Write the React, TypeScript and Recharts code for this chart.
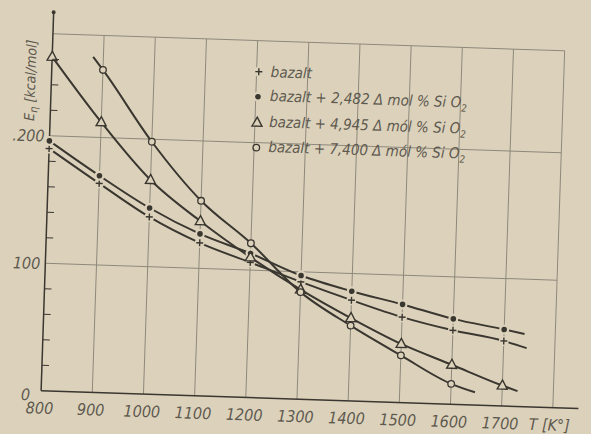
import React from 'react';
import { LineChart, Line, XAxis, YAxis, ReferenceLine, ReferenceDot, Legend } from 'recharts';

// temperatures [K] and activation energy E_eta [kcal/mol]
const bazaltT = [800, 900, 1000, 1100, 1200, 1300, 1400, 1500, 1600, 1700, 1745];
const bazaltE = [190, 164, 139, 120, 106, 92, 79, 67, 58, 51, 46];

const si2482T = [800, 900, 1000, 1100, 1200, 1300, 1400, 1500, 1600, 1700, 1740];
const si2482E = [196, 170, 146, 127, 113, 97, 86, 77, 67, 60, 57];

const si4945T = [800, 900, 1000, 1100, 1200, 1300, 1400, 1500, 1600, 1700, 1730];
const si4945E = [262, 212, 168, 137, 110, 86, 65, 46, 31, 16, 12];

const si7400T = [880, 900, 1000, 1100, 1200, 1300, 1400, 1500, 1600, 1647];
const si7400E = [263, 253, 198, 153, 121, 84, 59, 37, 16, 10];

const seriesNames = [
  'bazalt',
  'bazalt + 2,482 \u0394 mol % Si O',
  'bazalt + 4,945 \u0394 m\u00f3l % Si O',
  'bazalt + 7,400 \u0394 m\u00f3l % Si O',
];

const xTicks = [800, 900, 1000, 1100, 1200, 1300, 1400, 1500, 1600, 1700];
const yTicks = [0, 20, 40, 60, 80, 100, 120, 140, 160, 180, 200, 220, 240, 260, 280];
const yLabelValues = [0, 100, 200];
const yLabelTexts = ['0', '100', '.200'];
const gridT = [900, 1000, 1100, 1200, 1300, 1400, 1500, 1600, 1700, 1800];
const gridE = [100, 200, 280];

const PAPER = '#dcd2bb';
const INK = '#3a3630';
const GRID = '#8e887c';
const LABEL = '#5e594f';
const FONT = "'Liberation Sans Narrow', 'DejaVu Sans Condensed', 'DejaVu Sans', sans-serif";

const build = (ts: number[], es: number[]) => ts.map((T, i) => ({ T, E: es[i] }));

const isMark = (p: any) => p && p.T % 100 === 0;

const PlusMark = ({ cx, cy }: any) => (
  <g>
    <circle cx={cx} cy={cy} r={5} fill={PAPER} />
    <line x1={cx - 3.5} x2={cx + 3.5} y1={cy} y2={cy} stroke={INK} strokeWidth={1.4} />
    <line x1={cx} x2={cx} y1={cy - 3.5} y2={cy + 3.5} stroke={INK} strokeWidth={1.4} />
  </g>
);
const DotMark = ({ cx, cy }: any) => (
  <g>
    <circle cx={cx} cy={cy} r={5} fill={PAPER} />
    <circle cx={cx} cy={cy} r={2.8} fill={INK} />
  </g>
);
const TriMark = ({ cx, cy }: any) => (
  <path
    d={`M${cx},${cy - 5.5} L${cx - 5},${cy + 3.5} L${cx + 5},${cy + 3.5} Z`}
    fill={PAPER}
    stroke={INK}
    strokeWidth={1.4}
  />
);
const CircMark = ({ cx, cy }: any) => (
  <circle cx={cx} cy={cy} r={3.3} fill={PAPER} stroke={INK} strokeWidth={1.3} />
);

const marks = [PlusMark, DotMark, TriMark, CircMark];

const makeDot = (Mark: any) => (props: any) => {
  const { cx, cy, payload, index } = props;
  if (!isMark(payload)) return <g key={`n-${index}`} />;
  return <Mark key={`m-${index}`} cx={cx} cy={cy} />;
};

const XTick = ({ x, y, payload }: any) => (
  <text
    x={x - 1}
    y={y + 23}
    textAnchor="middle"
    fill={LABEL}
    fontFamily={FONT}
    fontStyle="italic"
    fontSize={16}
  >
    {payload.value}
  </text>
);

const YTick = ({ x, y, payload }: any) => {
  const v = payload.value;
  const k = yLabelValues.indexOf(v);
  return (
    <g>
      {v > 0 && v < 280 && v % 100 !== 0 && (
        <line x1={x} x2={x + 7} y1={y} y2={y} stroke={INK} strokeWidth={1} />
      )}
      {k >= 0 && (
        <text
          x={v === 0 ? x - 11 : x - 5}
          y={v === 0 ? y + 10 : y + 6}
          textAnchor="end"
          fill={LABEL}
          fontFamily={FONT}
          fontStyle="italic"
          fontSize={16}
        >
          {yLabelTexts[k]}
        </text>
      )}
    </g>
  );
};

const YTitle = () => (
  <text
    transform="translate(31,89) rotate(-90)"
    textAnchor="middle"
    fill={LABEL}
    fontFamily={FONT}
    fontStyle="italic"
    fontSize={14}
  >
    E
    <tspan fontSize={11} dy={3}>
      {'\u03b7'}
    </tspan>
    <tspan dy={-3}> [kcal/mol]</tspan>
  </text>
);

const XTitle = () => (
  <text x={556} y={422} textAnchor="middle" fill={LABEL} fontFamily={FONT} fontStyle="italic" fontSize={16}>
    T [K°]
  </text>
);

const renderLegend = () => (
  <div style={{ fontFamily: FONT, fontStyle: 'italic', fontSize: 15, color: LABEL }}>
    {seriesNames.map((name, i) => {
      const Mark = marks[i];
      return (
        <div key={name} style={{ display: 'flex', alignItems: 'center', height: 25.5 }}>
          <svg width={16} height={16} style={{ marginRight: 4 }}>
            <Mark cx={8} cy={8} />
          </svg>
          <span>
            {name}
            {i > 0 && <sub style={{ fontSize: 10 }}>2</sub>}
          </span>
        </div>
      );
    })}
  </div>
);

export default function App() {
  const series = [
    build(bazaltT, bazaltE),
    build(si2482T, si2482E),
    build(si4945T, si4945E),
    build(si7400T, si7400E),
  ];

  return (
    <div
      style={{
        position: 'absolute',
        left: 0,
        top: 0,
        width: 591,
        height: 434,
        overflow: 'hidden',
        background: PAPER,
      }}
    >
      <div style={{ width: 591, height: 434, transform: 'rotate(1.9deg)', transformOrigin: '295.5px 217px' }}>
        <LineChart width={591} height={434} margin={{ top: 42, right: 32, left: 17, bottom: 5 }}>
          <XAxis
            dataKey="T"
            type="number"
            domain={[800, 1800]}
            ticks={xTicks}
            axisLine={false}
            tickLine={false}
            tickSize={0}
            tickMargin={0}
            height={30}
            tick={<XTick />}
            allowDuplicatedCategory={false}
            label={<XTitle />}
          />
          <YAxis
            type="number"
            domain={[0, 280]}
            ticks={yTicks}
            width={30}
            axisLine={false}
            tickLine={false}
            tickSize={0}
            tickMargin={0}
            tick={<YTick />}
            label={<YTitle />}
          />
          {gridT.map((t) => (
            <ReferenceLine key={`gx-${t}`} x={t} stroke={GRID} strokeWidth={1} />
          ))}
          {gridE.map((e) => (
            <ReferenceLine key={`gy-${e}`} y={e} stroke={GRID} strokeWidth={1} />
          ))}
          <ReferenceLine
            segment={[{ x: 800, y: 0 }, { x: 800, y: 297 }]}
            stroke={INK}
            strokeWidth={1.5}
            ifOverflow="visible"
          />
          <ReferenceLine
            segment={[{ x: 800, y: 0 }, { x: 1850, y: 0 }]}
            stroke={INK}
            strokeWidth={1.5}
            ifOverflow="visible"
          />
          <ReferenceDot x={800} y={297} r={2} fill={INK} stroke="none" ifOverflow="visible" />
          {series.map((d, i) => (
            <Line
              key={seriesNames[i]}
              data={d}
              dataKey="E"
              name={seriesNames[i]}
              type="monotone"
              stroke={INK}
              strokeWidth={2}
              dot={makeDot(marks[i])}
              activeDot={false}
              isAnimationActive={false}
            />
          ))}
          <Legend
            layout="vertical"
            align="center"
            verticalAlign="middle"
            content={renderLegend}
            wrapperStyle={{ left: 246, top: 60, width: 320 }}
          />
        </LineChart>
      </div>
    </div>
  );
}
